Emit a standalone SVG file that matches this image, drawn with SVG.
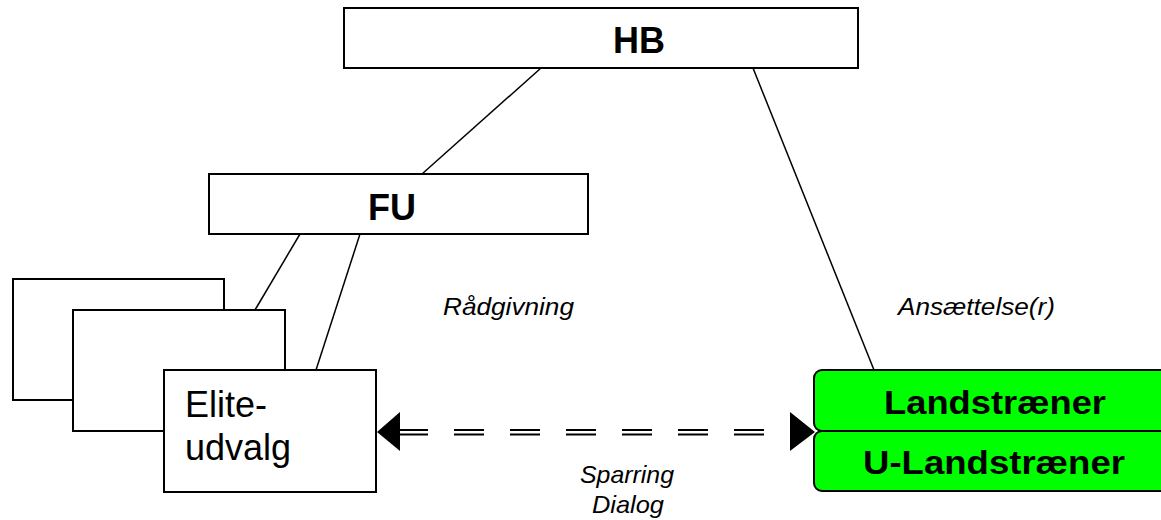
<svg xmlns="http://www.w3.org/2000/svg" width="1161" height="520" viewBox="0 0 1161 520">
<style>
.box{fill:#fff;stroke:#000;stroke-width:2}
.green{fill:#00ff00;stroke:#000;stroke-width:2}
.ln{stroke:#000;stroke-width:1.5;fill:none}
.dash{stroke:#000;stroke-width:1.8;fill:none;stroke-dasharray:30 26}
.b{font-family:"Liberation Sans",Arial,sans-serif;font-weight:bold;fill:#000}
.r{font-family:"Liberation Sans",Arial,sans-serif;fill:#000}
.i{font-family:"Liberation Sans",Arial,sans-serif;font-style:italic;fill:#000;font-size:24px}
</style>
<rect width="1161" height="520" fill="#fff"/>
<g id="connectors">
<line class="ln" x1="541" y1="68" x2="422" y2="174"/>
<line class="ln" x1="753" y1="68" x2="874" y2="370"/>
<line class="ln" x1="300" y1="234" x2="255" y2="310"/>
<line class="ln" x1="360" y1="234" x2="316" y2="370"/>
<line class="dash" x1="398" y1="430" x2="800" y2="430"/>
<line class="dash" x1="398" y1="434.5" x2="800" y2="434.5"/>
<polygon points="377,432 400,412 400,451" fill="#000"/>
<polygon points="815,432 790,412 790,451" fill="#000"/>
<text class="i" x="443" y="315" textLength="131" lengthAdjust="spacingAndGlyphs">Rådgivning</text>
<text class="i" x="898" y="315" textLength="157" lengthAdjust="spacingAndGlyphs">Ansættelse(r)</text>
<text class="i" x="580" y="483" textLength="94" lengthAdjust="spacingAndGlyphs">Sparring</text>
<text class="i" x="592" y="513" textLength="72" lengthAdjust="spacingAndGlyphs">Dialog</text>
</g>
<g id="hb">
<rect class="box" x="344" y="8" width="514" height="60"/>
<text class="b" x="639" y="53" font-size="36" text-anchor="middle">HB</text>
</g>
<g id="fu">
<rect class="box" x="209" y="174" width="379" height="60"/>
<text class="b" x="392" y="220" font-size="36" text-anchor="middle">FU</text>
</g>
<g id="stack1">
<rect class="box" x="13" y="279" width="211" height="121"/>
</g>
<g id="stack2">
<rect class="box" x="73" y="310" width="212" height="121"/>
</g>
<g id="eliteudvalg">
<rect class="box" x="164" y="370" width="212" height="122"/>
<text class="r" x="185" y="417" font-size="36">Elite-</text>
<text class="r" x="185" y="460" font-size="36">udvalg</text>
</g>
<g id="landstraener">
<rect class="green" x="814" y="370" width="360" height="61" rx="8"/>
<text class="b" x="884" y="414" font-size="34" textLength="222" lengthAdjust="spacingAndGlyphs">Landstræner</text>
</g>
<g id="u-landstraener">
<rect class="green" x="814" y="431" width="360" height="60" rx="8"/>
<text class="b" x="863" y="474" font-size="34" textLength="262" lengthAdjust="spacingAndGlyphs">U-Landstræner</text>
</g>
</svg>
